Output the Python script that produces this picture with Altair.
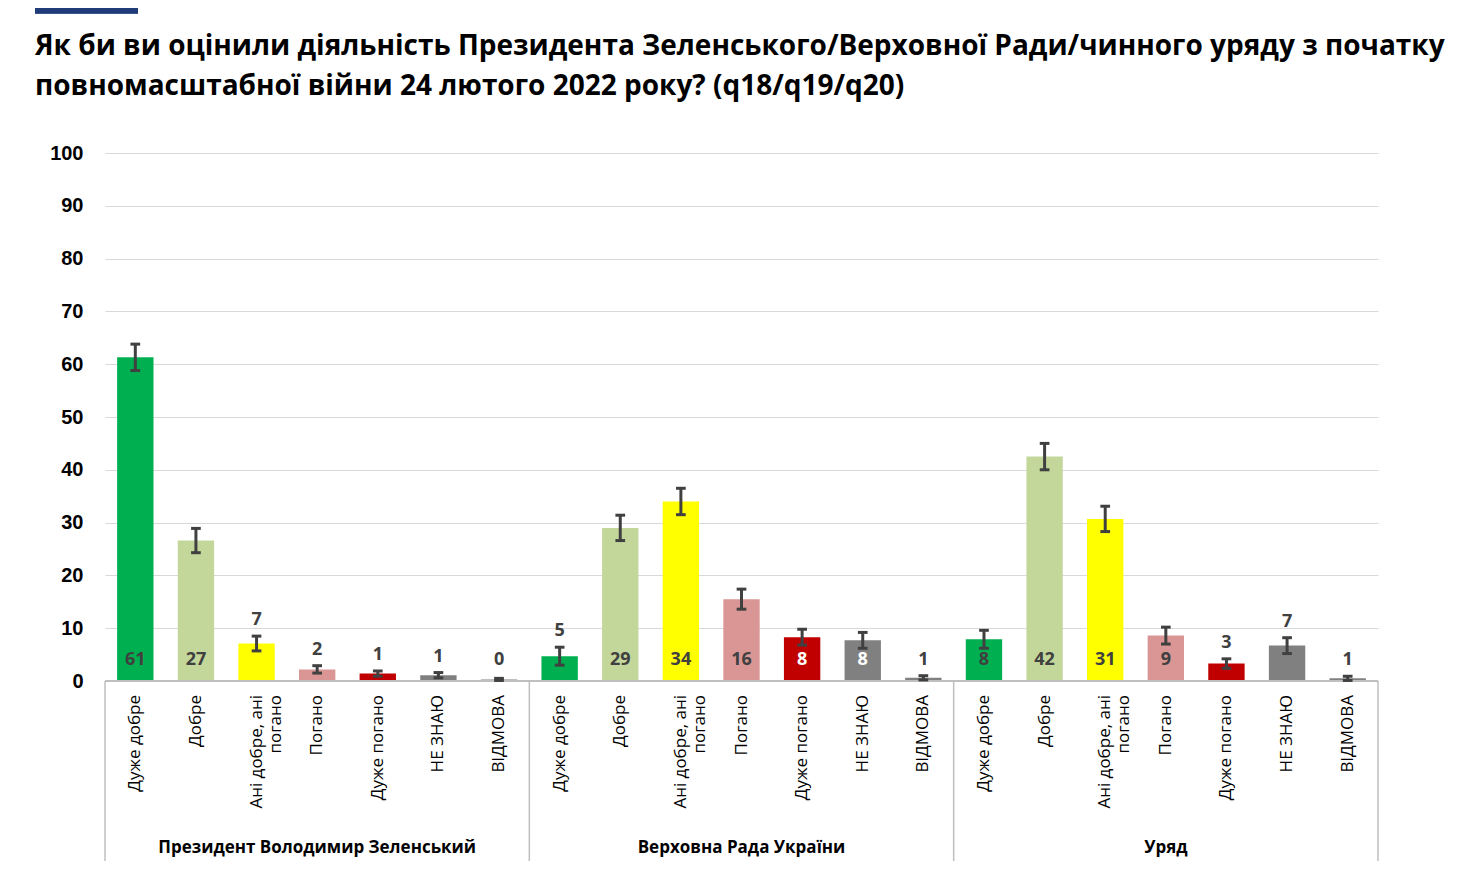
import pandas as pd
import altair as alt

groups = ["Президент Володимир Зеленський", "Верховна Рада України", "Уряд"]
answers = ["Дуже добре", "Добре", "Ані добре, ані\nпогано", "Погано", "Дуже погано", "НЕ ЗНАЮ", "ВІДМОВА"]
colors = ["#00b050", "#c4d79b", "#ffff00", "#da9694", "#c00000", "#808080", "#808080"]
title_lines = ["Як би ви оцінили діяльність Президента Зеленського/Верховної Ради/чинного уряду з початку",
               "повномасштабної війни 24 лютого 2022 року? (q18/q19/q20)"]

# shown labels, bar heights, error margins
labels = [61, 27, 7, 2, 1, 1, 0,
          5, 29, 34, 16, 8, 8, 1,
          8, 42, 31, 9, 3, 7, 1]
heights = [61.3, 26.6, 7.1, 2.2, 1.4, 1.1, 0.3,
           4.7, 29.0, 34.0, 15.5, 8.3, 7.7, 0.6,
           7.9, 42.5, 30.7, 8.6, 3.3, 6.7, 0.5]
errors = [2.5, 2.3, 1.4, 0.7, 0.5, 0.5, 0.2,
          1.7, 2.4, 2.5, 1.9, 1.5, 1.5, 0.4,
          1.7, 2.5, 2.4, 1.6, 0.9, 1.5, 0.4]

rows = []
for g in range(3):
    for a in range(7):
        i = g * 7 + a
        top = heights[i] + errors[i]
        inside = heights[i] >= 7.5 and a != 2 or labels[i] >= 16
        rows.append({
            "i": i, "x": i + 0.5, "x1": i + 0.2, "x2": i + 0.8,
            "c1": i + 0.42, "c2": i + 0.58,
            "v": heights[i], "lo": max(heights[i] - errors[i], 0), "hi": top,
            "lab": str(labels[i]),
            "ly": 4 if inside else max(4, top + 3),
            "lc": "#ffffff" if (inside and a in (4, 5)) else "#404040",
            "ans": answers[a], "col": colors[a],
        })
df = pd.DataFrame(rows)
gdf = pd.DataFrame({"g": groups, "x": [3.5, 10.5, 17.5]})
sep = pd.DataFrame({"x": [0, 7, 14, 21]})
tdf = pd.DataFrame({"t": title_lines, "y": [-98, -58]})

W, H = 1273, 528
xs = alt.Scale(domain=[0, 21], nice=False, zero=False)
ys = alt.Scale(domain=[0, 100], nice=False, padding=0)
X = lambda f: alt.X(f"{f}:Q", scale=xs, axis=None)

bars = alt.Chart(df).mark_bar().encode(
    x=X("x1"), x2="x2",
    y=alt.Y("v:Q", scale=ys,
            axis=alt.Axis(values=list(range(0, 101, 10)), title=None, domain=False, ticks=False,
                          labelFontSize=20, labelFontWeight="bold", labelColor="#000",
                          labelPadding=22, gridColor="#d9d9d9")),
    y2=alt.datum(0),
    color=alt.Color("col:N", scale=None),
)
base_line = alt.Chart(df).mark_rule(color="#bfbfbf", strokeWidth=1.5).encode(
    x=alt.value(0), x2=alt.value(W), y=alt.value(H))
err = alt.Chart(df).mark_rule(color="#404040", strokeWidth=3).encode(
    x=X("x"), y=alt.Y("lo:Q", scale=ys), y2="hi:Q")
cap_lo = alt.Chart(df).mark_rule(color="#404040", strokeWidth=3).encode(
    x=X("c1"), x2="c2", y=alt.Y("lo:Q", scale=ys))
cap_hi = alt.Chart(df).mark_rule(color="#404040", strokeWidth=3).encode(
    x=X("c1"), x2="c2", y=alt.Y("hi:Q", scale=ys))
vals = alt.Chart(df).mark_text(fontSize=18, fontWeight="bold", font="Open Sans").encode(
    x=X("x"), y=alt.Y("ly:Q", scale=ys), text="lab:N", color=alt.Color("lc:N", scale=None))
cats = alt.Chart(df).mark_text(angle=270, align="right", baseline="middle", fontSize=17,
                               font="Open Sans", lineBreak="\n", color="#000").encode(
    x=X("x"), y=alt.value(H + 14), text="ans:N")
seps = alt.Chart(sep).mark_rule(color="#bfbfbf", strokeWidth=1.5).encode(
    x=X("x"), y=alt.value(H), y2=alt.value(H + 180))
glab = alt.Chart(gdf).mark_text(fontSize=17, fontWeight="bold", font="Open Sans", color="#000").encode(
    x=X("x"), y=alt.value(H + 167), text="g:N")
navy = alt.Chart(gdf).mark_rule(color="#1f3b7a", strokeWidth=7).encode(
    x=alt.value(-70), x2=alt.value(33), y=alt.value(-143))
title = alt.Chart(tdf).mark_text(align="left", baseline="alphabetic", fontSize=28, fontWeight="bold",
                                 font="Open Sans", color="#000").encode(
    x=alt.value(-70), y=alt.Y("y:Q", scale=None), text="t:N")

chart = alt.layer(bars, base_line, err, cap_lo, cap_hi, vals, cats, seps, glab, navy, title).properties(
    width=W, height=H,
    autosize=alt.AutoSizeParams(type="none"),
    padding={"left": 97, "top": 145, "right": 90, "bottom": 190},
).configure_view(stroke=None)

chart.save("out.html", embed_options={"renderer": "svg", "actions": False})
